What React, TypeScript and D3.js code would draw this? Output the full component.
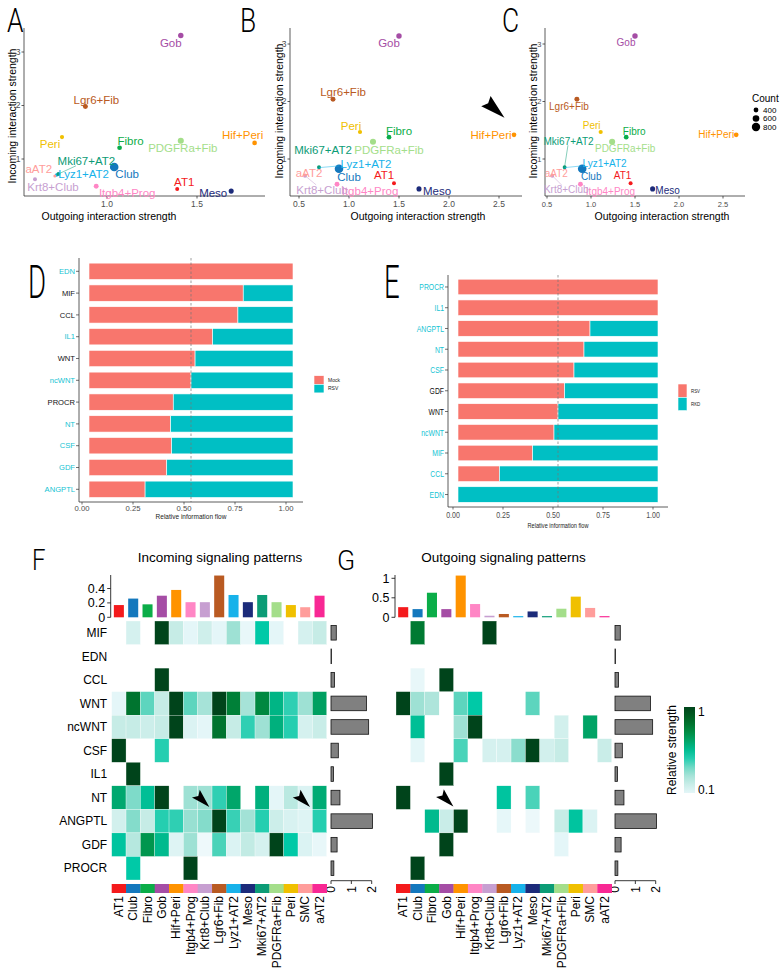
import React from "react";
import * as d3 from "d3";

const SANS = "'Liberation Sans', Arial, sans-serif";
const LETTER = "Roboto, 'Liberation Sans', sans-serif";
const SALMON = "#F8766D";
const TEAL = "#00BFC4";
const CYAN_LABEL = "#14C3D3";

// cell groups (heatmap columns) and their colours
const cellTypes = [
  "AT1", "Club", "Fibro", "Gob", "Hif+Peri", "Itgb4+Prog", "Krt8+Club", "Lgr6+Fib",
  "Lyz1+AT2", "Meso", "Mki67+AT2", "PDGFRa+Fib", "Peri", "SMC", "aAT2",
];
const cellColors = [
  "#F41A1C", "#1478BD", "#0BAD48", "#A54DA5", "#FF9300", "#FF86C5", "#C79FD1", "#B95A22",
  "#17B2EA", "#1C2B7A", "#0C9C76", "#A4DE8A", "#F0C000", "#FF9D9B", "#F82894",
];

// the scatter panels have no SMC group, so aAT2 takes the 14th palette colour
const scatterTypes = cellTypes.filter((c) => c !== "SMC");
const scatterColors = [...cellColors.slice(0, 13), "#FF9D9B"];
const cellCounts = [310, 820, 390, 470, 390, 410, 310, 420, 240, 430, 290, 540, 330, 200];
const countBreaks = [400, 600, 800];

// A: Mock + RSV
const mockOutgoing = [1.39, 1.04, 1.07, 1.41, 1.82, 0.94, 0.6, 0.88, 0.72, 1.69, 0.73, 1.41, 0.75, 0.71];
const mockIncoming = [0.44, 0.85, 1.21, 3.31, 1.3, 0.49, 0.62, 1.98, 0.7, 0.4, 0.72, 1.34, 1.41, 0.68];
// B, C: RSV + RKD
const rkdOutgoing = [1.45, 0.9, 1.4, 1.5, 2.65, 0.88, 0.56, 0.84, 0.7, 1.7, 0.7, 1.24, 1.11, 0.56];
const rkdIncoming = [0.58, 0.83, 1.38, 3.14, 1.42, 0.56, 0.71, 2.04, 0.85, 0.48, 0.86, 1.3, 1.47, 0.72];

// D: relative information flow, Mock vs RSV
const flowPathwaysD = ["EDN", "MIF", "CCL", "IL1", "WNT", "ncWNT", "PROCR", "NT", "CSF", "GDF", "ANGPTL"];
const mockShare = [1.0, 0.756, 0.73, 0.606, 0.52, 0.5, 0.413, 0.4, 0.405, 0.381, 0.275];
const enrichedD = ["EDN", "IL1", "ncWNT", "NT", "CSF", "GDF", "ANGPTL"];

// E: relative information flow, RSV vs RKD
const flowPathwaysE = ["PROCR", "IL1", "ANGPTL", "NT", "CSF", "GDF", "WNT", "ncWNT", "MIF", "CCL", "EDN"];
const rsvShare = [1, 1, 0.66, 0.63, 0.58, 0.533, 0.5, 0.48, 0.373, 0.207, 0];
const enrichedE = ["PROCR", "IL1", "ANGPTL", "NT", "CSF", "ncWNT", "MIF", "CCL", "EDN"];
const flowTicks = [0, 0.25, 0.5, 0.75, 1];

// F, G: signalling role heatmaps (relative strength, 0 = none)
const pathways = ["MIF", "EDN", "CCL", "WNT", "ncWNT", "CSF", "IL1", "NT", "ANGPTL", "GDF", "PROCR"];
const incomingRel = [
  [0, 0.15, 0, 1, 0.2, 0.1, 0.17, 0.1, 0.3, 0.08, 0.5, 0.1, 0, 0.15, 0.2],
  [0, 0, 0, 0, 0, 0, 0, 0, 0, 0, 0, 0, 0, 0, 0],
  [0, 0, 0, 1, 0, 0, 0, 0, 0, 0, 0, 0, 0, 0, 0],
  [0.1, 0.82, 0.4, 0.2, 1, 0.4, 0.28, 1, 0.78, 0.28, 0.75, 0.58, 0.45, 0.3, 0.66],
  [0.2, 0.2, 0.18, 0.2, 1, 0.13, 0.1, 0.82, 0.2, 0.45, 0.3, 0.6, 0.46, 0.15, 0.19],
  [1, 0, 0, 0.46, 0, 0, 0, 0, 0, 0, 0, 0, 0, 0, 0],
  [0, 1, 0, 0, 0, 0, 0, 0, 0, 0, 0, 0, 0, 0, 0],
  [0.63, 0.35, 0.54, 1, 0, 0.3, 0.3, 0.45, 0.64, 0, 0.6, 0.1, 0.23, 0.13, 0.62],
  [0.16, 0.34, 0.2, 0.46, 0.45, 0.31, 0.34, 1, 0.44, 0.29, 0.46, 0.18, 0.14, 0.12, 0.46],
  [0.52, 0.24, 0.7, 0.56, 0.12, 0.3, 0.05, 0.42, 0.13, 0.21, 0.15, 1, 0.5, 0.13, 0.08],
  [0, 0.5, 0, 0, 0, 1, 0, 0, 0, 0, 0, 0, 0, 0, 0],
];
const outgoingRel = [
  [0, 0.8, 0, 0, 0, 0, 1, 0, 0, 0, 0, 0, 0, 0, 0],
  [0, 0, 0, 0, 0, 0, 0, 0, 0, 0, 0, 0, 0, 0, 0],
  [0, 0.08, 0, 1, 0, 0, 0, 0, 0, 0, 0, 0, 0, 0, 0],
  [1, 0.3, 0.26, 0, 0.4, 0.5, 0, 0, 0, 0.4, 0, 0, 0, 0, 0],
  [0, 0.54, 0, 0, 0.3, 1, 0, 0, 0, 0, 0, 0.16, 0, 0.65, 0],
  [0, 0.1, 0, 0, 0.42, 0, 0.15, 0.15, 0.33, 1, 0.16, 0.2, 0, 0, 0.19],
  [0, 0, 0, 1, 0, 0, 0, 0, 0, 0, 0, 0, 0, 0, 0],
  [1, 0, 0, 0, 0, 0, 0, 0.52, 0, 0.42, 0, 0, 0, 0, 0],
  [0, 0, 0.56, 0.19, 1, 0, 0, 0.09, 0, 0.06, 0, 0.2, 0.52, 0.13, 0],
  [0, 0, 0, 1, 0, 0, 0, 0, 0, 0, 0, 0.1, 0, 0, 0],
  [0, 1, 0, 0, 0, 0, 0, 0, 0, 0, 0, 0, 0, 0, 0],
];
const incomingTotals = [0.17, 0.26, 0.18, 0.3, 0.38, 0.21, 0.21, 0.58, 0.31, 0.21, 0.31, 0.21, 0.17, 0.14, 0.3];
const outgoingTotals = [0.26, 0.21, 0.63, 0.21, 1.07, 0.34, 0.04, 0.085, 0.03, 0.15, 0.03, 0.22, 0.53, 0.24, 0.03];
const pathwayTotals = [0.26, 0.02, 0.17, 1.74, 1.85, 0.36, 0.12, 0.44, 2.04, 0.3, 0.14];

// label placement for the scatter panels (pixel nudges from each point)
type Nudge = [number, number];
const nudgesA: Nudge[] = [[7, -7], [13, 7], [11, -7], [-10, 8], [-12, -8], [31, 7], [18, 8], [11, -7], [27, -1], [-18, 2], [28, -13], [2, 7], [-12, 7], [-16, -7]];
const nudgesB: Nudge[] = [[-10, -8], [10, 8], [10, -6], [-10, 7], [-23, 0], [33, 7], [17, 14], [10, -7], [47, -4], [18, 2], [4, -17], [16, 8], [-9, -6], [4, -2]];
const nudgesC: Nudge[] = [[-8, -8], [9, 8], [8, -6], [-9, 7], [-20, 0], [30, 7], [14, 14], [-8, 7], [40, -4], [15, 2], [4, -26], [13, 7], [-9, -6], [4, -2]];

const countRadius = d3.scaleLinear().domain([200, 800]).range([1.5, 4.2]);

const heatColor = d3
  .scaleLinear<string>()
  .domain([0, 0.1, 0.2, 0.3, 0.4, 0.5, 0.6, 0.7, 0.8, 0.9, 1])
  .range(["#F7FCFD", "#E4F6F8", "#C6ECE6", "#9EE1D4", "#5DD5BE", "#00C9A7", "#00B07D", "#00964E", "#007A32", "#005E22", "#00441B"])
  .interpolate(d3.interpolateRgb);

type Lin = d3.ScaleLinear<number, number>;

function arrowHead(tx: number, ty: number, deg: number, len: number, hw: number, notch: number) {
  const a = (deg * Math.PI) / 180;
  const ux = Math.cos(a);
  const uy = Math.sin(a);
  const bx = tx - ux * len;
  const by = ty - uy * len;
  const nx = bx + ux * notch;
  const ny = by + uy * notch;
  return `M${tx},${ty}L${bx - uy * hw},${by + ux * hw}L${nx},${ny}L${bx + uy * hw},${by - ux * hw}Z`;
}

const Letter = ({ x, y, size, sx, children }: { x: number; y: number; size: number; sx: number; children: string }) => (
  <text transform={`translate(${x},${y}) scale(${sx},1)`} fontSize={size} fontFamily={LETTER} fontWeight={300} fill="#000">
    {children}
  </text>
);

function Scatter(p: {
  left: number; right: number; top: number; bottom: number;
  x: Lin; y: Lin; xTicks: number[]; yTicks: number[];
  outgoing: number[]; incoming: number[]; nudges: Nudge[]; segs: string[];
  labelSize: number; tickSize: number; titleSize: number;
  xTitleX: number; yTitleX: number; yTitleY: number;
}) {
  const fmt = d3.format(".1f");
  const pts = scatterTypes.map((name, i) => {
    const px = p.x(p.outgoing[i]);
    const py = p.y(p.incoming[i]);
    return {
      name, color: scatterColors[i], r: countRadius(cellCounts[i]), px, py,
      lx: px + p.nudges[i][0], ly: py + p.nudges[i][1],
    };
  });
  const segments = pts
    .filter((d) => p.segs.includes(d.name))
    .map((d) => {
      const hw = d.name.length * p.labelSize * 0.29;
      const hh = p.labelSize * 0.42;
      const dx = d.px - d.lx;
      const dy = d.py - d.ly;
      const t = Math.min(dx ? hw / Math.abs(dx) : Infinity, dy ? hh / Math.abs(dy) : Infinity);
      return { ...d, ex: d.lx + dx * t, ey: d.ly + dy * t };
    });
  return (
    <g>
      <line x1={p.left} x2={p.left} y1={p.top} y2={p.bottom} stroke="#333" strokeWidth={0.8} />
      <line x1={p.left} x2={p.right} y1={p.bottom} y2={p.bottom} stroke="#333" strokeWidth={0.8} />
      {p.yTicks.map((t) => (
        <g key={`y${t}`}>
          <line x1={p.left - 2.5} x2={p.left} y1={p.y(t)} y2={p.y(t)} stroke="#333" strokeWidth={0.8} />
          <text x={p.left - 3.5} y={p.y(t)} dy="0.35em" textAnchor="end" fontSize={p.tickSize} fill="#4D4D4D">{t}</text>
        </g>
      ))}
      {p.xTicks.map((t) => (
        <g key={`x${t}`}>
          <line x1={p.x(t)} x2={p.x(t)} y1={p.bottom} y2={p.bottom + 2.5} stroke="#333" strokeWidth={0.8} />
          <text x={p.x(t)} y={p.bottom + 8} dy="0.35em" textAnchor="middle" fontSize={p.tickSize} fill="#4D4D4D">{fmt(t)}</text>
        </g>
      ))}
      <text transform={`translate(${p.yTitleX},${p.yTitleY}) rotate(-90)`} dy="0.35em" textAnchor="middle" fontSize={p.titleSize}>
        Incoming interaction strength
      </text>
      <text x={p.xTitleX} y={p.bottom + 20} dy="0.35em" textAnchor="middle" fontSize={p.titleSize}>
        Outgoing interaction strength
      </text>
      {pts.map((d) => (
        <circle key={d.name} cx={d.px} cy={d.py} r={d.r} fill={d.color} />
      ))}
      {segments.map((d) => (
        <line key={`s${d.name}`} x1={d.px} y1={d.py} x2={d.ex} y2={d.ey} stroke={d.color} strokeWidth={0.5} />
      ))}
      {pts.map((d) => (
        <text key={`l${d.name}`} x={d.lx} y={d.ly} dy="0.35em" textAnchor="middle" fontSize={p.labelSize} fill={d.color}>
          {d.name}
        </text>
      ))}
    </g>
  );
}

function FlowBars(p: {
  cats: string[]; share: number[]; enriched: string[]; legend: string[];
  x0: number; x1: number; top: number; bottom: number;
  axisX: number; axisTop: number; axisY: number; axisRight: number;
  labelSize: number; labelSx: number; tickSize: number; tickSx: number; tickShift: number; tickGap: number;
  titleY: number; titleSize: number; titleSx: number;
  legX: number; legY: number; legW: number; legH: number; legSize: number; legSx: number;
}) {
  const x = d3.scaleLinear().domain([0, 1]).range([p.x0, p.x1]);
  const y = d3.scaleBand<string>().domain(p.cats).range([p.top, p.bottom]).paddingInner(0.25).paddingOuter(0.125);
  const fmt = d3.format(".2f");
  return (
    <g>
      {p.cats.map((c, i) => (
        <g key={c}>
          <rect x={x(0)} y={y(c)} width={x(p.share[i]) - x(0)} height={y.bandwidth()} fill={SALMON} stroke="#fff" strokeWidth={0.6} />
          <rect x={x(p.share[i])} y={y(c)} width={x(1) - x(p.share[i])} height={y.bandwidth()} fill={TEAL} stroke="#fff" strokeWidth={0.6} />
        </g>
      ))}
      <line x1={x(0.5)} x2={x(0.5)} y1={p.axisTop} y2={p.axisY} stroke="#777" strokeWidth={0.7} strokeDasharray="2.5,2" />
      <line x1={p.axisX} x2={p.axisX} y1={p.axisTop} y2={p.axisY} stroke="#333" strokeWidth={0.8} />
      <line x1={p.axisX} x2={p.axisRight} y1={p.axisY} y2={p.axisY} stroke="#333" strokeWidth={0.8} />
      {p.cats.map((c) => {
        const cy = (y(c) as number) + y.bandwidth() / 2;
        return (
          <g key={`t${c}`}>
            <line x1={p.axisX - 3} x2={p.axisX} y1={cy} y2={cy} stroke="#333" strokeWidth={0.7} />
            <text
              transform={`translate(${p.axisX - 4},${cy}) scale(${p.labelSx},1)`}
              dy="0.35em"
              textAnchor="end"
              fontSize={p.labelSize}
              fill={p.enriched.includes(c) ? CYAN_LABEL : "#111"}
            >
              {c}
            </text>
          </g>
        );
      })}
      {flowTicks.map((t) => (
        <g key={`x${t}`}>
          <line x1={x(t) + p.tickShift} x2={x(t) + p.tickShift} y1={p.axisY} y2={p.axisY + 2.5} stroke="#333" strokeWidth={0.7} />
          <text
            transform={`translate(${x(t) + p.tickShift},${p.axisY + p.tickGap}) scale(${p.tickSx},1)`}
            dy="0.35em"
            textAnchor="middle"
            fontSize={p.tickSize}
            fill="#4D4D4D"
          >
            {fmt(t)}
          </text>
        </g>
      ))}
      <text transform={`translate(${x(0.5)},${p.titleY}) scale(${p.titleSx},1)`} dy="0.35em" textAnchor="middle" fontSize={p.titleSize} fill="#222">
        Relative information flow
      </text>
      {p.legend.map((name, i) => (
        <g key={name}>
          <rect x={p.legX} y={p.legY + i * p.legH} width={p.legW} height={p.legH} fill={i === 0 ? SALMON : TEAL} stroke="#fff" strokeWidth={0.6} />
          <text
            transform={`translate(${p.legX + p.legW + 4},${p.legY + (i + 0.5) * p.legH}) scale(${p.legSx},1)`}
            dy="0.35em"
            fontSize={p.legSize}
            fill="#222"
          >
            {name}
          </text>
        </g>
      ))}
    </g>
  );
}

const rowBand = d3.scaleBand<string>().domain(pathways).range([621, 880]);
const COL_LABEL_TOP = 896;
const STRIP_Y = 884;

function Heatmap(p: {
  left: number; right: number; values: number[][]; colTotals: number[];
  topMax: number; topPx: number; topTicks: number[]; barsLeft: number;
  rowLabels: boolean; title: string; titleX: number;
  arrows: [string, string, number, number][];
}) {
  const col = d3.scaleBand<string>().domain(cellTypes).range([p.left, p.right]);
  const colBar = d3.scaleBand<string>().domain(cellTypes).range([p.left, p.right]).paddingInner(0.3).paddingOuter(0.15);
  const yTop = d3.scaleLinear().domain([0, p.topMax]).range([617.3, 617.3 - p.topPx]);
  const xRow = d3.scaleLinear().domain([0, 2]).range([p.barsLeft, p.barsLeft + 40.7]);
  const tickFmt = d3.format("~g");
  const bw = col.bandwidth();
  const bh = rowBand.bandwidth();
  const rowBarH = bh * 0.62;
  const axisX = p.left - 1;
  return (
    <g>
      <text x={p.titleX} y={557} dy="0.35em" textAnchor="middle" fontSize={13.5}>{p.title}</text>
      {/* column sums on top */}
      <line x1={axisX} x2={axisX} y1={yTop(0)} y2={575} stroke="#222" strokeWidth={0.9} />
      {p.topTicks.map((t) => (
        <g key={`tt${t}`}>
          <line x1={axisX - 3.5} x2={axisX} y1={yTop(t)} y2={yTop(t)} stroke="#222" strokeWidth={0.9} />
          <text x={axisX - 5.5} y={yTop(t)} dy="0.35em" textAnchor="end" fontSize={12.5}>{tickFmt(t)}</text>
        </g>
      ))}
      {cellTypes.map((c, i) => (
        <rect key={`tb${c}`} x={colBar(c)} y={yTop(p.colTotals[i])} width={colBar.bandwidth()} height={yTop(0) - yTop(p.colTotals[i])} fill={cellColors[i]} />
      ))}
      {/* heatmap cells */}
      {pathways.map((pw, r) =>
        cellTypes.map((c, i) =>
          p.values[r][i] > 0 ? (
            <rect key={`${pw}-${c}`} x={col(c)} y={rowBand(pw)} width={bw} height={bh} fill={heatColor(p.values[r][i])} stroke="#fff" strokeWidth={0.3} />
          ) : null
        )
      )}
      {p.rowLabels &&
        pathways.map((pw) => (
          <text key={`rl${pw}`} x={p.left - 4.5} y={(rowBand(pw) as number) + bh / 2} dy="0.35em" textAnchor="end" fontSize={12}>
            {pw}
          </text>
        ))}
      {/* row sums on the right */}
      {pathways.map((pw, r) => (
        <rect
          key={`rb${pw}`}
          x={xRow(0)}
          y={(rowBand(pw) as number) + (bh - rowBarH) / 2}
          width={Math.max(xRow(pathwayTotals[r]) - xRow(0), 0.3)}
          height={rowBarH}
          fill="#808080"
          stroke="#111"
          strokeWidth={0.8}
        />
      ))}
      <line x1={xRow(0)} x2={xRow(2)} y1={880.7} y2={880.7} stroke="#222" strokeWidth={0.9} />
      {[0, 1, 2].map((t) => (
        <g key={`rt${t}`}>
          <line x1={xRow(t)} x2={xRow(t)} y1={880.7} y2={884} stroke="#222" strokeWidth={0.9} />
          <text transform={`translate(${xRow(t)},${886}) rotate(-90)`} dy="0.35em" textAnchor="end" fontSize={12}>{t}</text>
        </g>
      ))}
      {/* cell colour strip and labels */}
      {cellTypes.map((c, i) => (
        <g key={`cs${c}`}>
          <rect x={col(c)} y={STRIP_Y} width={bw + 0.3} height={9} fill={cellColors[i]} />
          <text transform={`translate(${(col(c) as number) + bw / 2},${COL_LABEL_TOP}) rotate(-90)`} dy="0.35em" textAnchor="end" fontSize={12}>
            {c}
          </text>
        </g>
      ))}
      {p.arrows.map(([pw, c, fx, fy]) => (
        <path
          key={`ar${pw}${c}`}
          d={arrowHead((col(c) as number) + fx * bw, (rowBand(pw) as number) + fy * bh, 45, 19, 5.5, 3.5)}
          fill="#000"
        />
      ))}
    </g>
  );
}

export default function App() {
  const xA = d3.scaleLinear().domain([1, 1.5]).range([107, 197]);
  const yA = d3.scaleLinear().domain([1, 3]).range([159, 52]);
  const xB = d3.scaleLinear().domain([0.5, 2.5]).range([299, 499]);
  const yB = d3.scaleLinear().domain([1, 3]).range([159, 44]);
  const xC = d3.scaleLinear().domain([0.5, 2.5]).range([547, 723]);
  const yC = d3.scaleLinear().domain([1, 3]).range([159, 44]);
  const hifIdx = scatterTypes.indexOf("Hif+Peri");
  const hifX = xB(rkdOutgoing[hifIdx]);
  const hifY = yB(rkdIncoming[hifIdx]);

  const legendStops = d3.range(0, 1.0001, 0.1).map((t) => 0.1 + t * 0.9);

  return (
    <svg
      width={780}
      height={976}
      viewBox="0 0 780 976"
      style={{ position: "absolute", left: 0, top: 0, display: "block" }}
      fontFamily={SANS}
    >
      <rect width={780} height={976} fill="#fff" />
      <defs>
        <linearGradient id="relStrength" x1="0" y1="1" x2="0" y2="0">
          {legendStops.map((v, i) => (
            <stop key={i} offset={`${(i / (legendStops.length - 1)) * 100}%`} stopColor={heatColor(v)} />
          ))}
        </linearGradient>
      </defs>

      <Letter x={7} y={32} size={33} sx={0.8}>A</Letter>
      <Letter x={240} y={32} size={33} sx={0.8}>B</Letter>
      <Letter x={502} y={32} size={33} sx={0.8}>C</Letter>

      <Scatter
        left={24} right={265} top={28} bottom={196} x={xA} y={yA}
        xTicks={[1, 1.5]} yTicks={[1, 2, 3]}
        outgoing={mockOutgoing} incoming={mockIncoming} nudges={nudgesA} segs={["Mki67+AT2"]}
        labelSize={11.5} tickSize={8.5} titleSize={10.5}
        xTitleX={109} yTitleX={12} yTitleY={116}
      />
      <Scatter
        left={290} right={522} top={28} bottom={196} x={xB} y={yB}
        xTicks={[0.5, 1, 1.5, 2, 2.5]} yTicks={[1, 2, 3]}
        outgoing={rkdOutgoing} incoming={rkdIncoming} nudges={nudgesB} segs={["Lyz1+AT2", "Krt8+Club"]}
        labelSize={11.5} tickSize={8.5} titleSize={10.5}
        xTitleX={418} yTitleX={279} yTitleY={111}
      />
      <path d={arrowHead(hifX - 9.5, hifY - 17, 42, 25, 7, 3)} fill="#000" />
      <Scatter
        left={545} right={745} top={28} bottom={196} x={xC} y={yC}
        xTicks={[0.5, 1, 1.5, 2, 2.5]} yTicks={[1, 2, 3]}
        outgoing={rkdOutgoing} incoming={rkdIncoming} nudges={nudgesC} segs={["Mki67+AT2", "Lyz1+AT2", "Krt8+Club"]}
        labelSize={10} tickSize={7.5} titleSize={10.5}
        xTitleX={662} yTitleX={533} yTitleY={111}
      />
      {/* point size legend */}
      <text x={752} y={98} dy="0.35em" fontSize={10}>Count</text>
      {countBreaks.map((c, i) => (
        <g key={c}>
          <circle cx={756} cy={110 + i * 8.5} r={countRadius(c)} fill="#000" />
          <text x={763} y={110 + i * 8.5} dy="0.35em" fontSize={8}>{c}</text>
        </g>
      ))}

      <Letter x={28} y={298} size={46} sx={0.6}>D</Letter>
      <Letter x={384} y={298} size={46} sx={0.6}>E</Letter>

      <FlowBars
        cats={flowPathwaysD} share={mockShare} enriched={enrichedD} legend={["Mock", "RSV"]}
        x0={89} x1={293} top={260.4} bottom={500.2}
        axisX={79} axisTop={258} axisY={502} axisRight={303}
        labelSize={7.6} labelSx={1} tickSize={7.7} tickSx={1} tickShift={-7} tickGap={6.5}
        titleY={517} titleSize={6.5} titleSx={1}
        legX={314} legY={375.7} legW={10} legH={8.6} legSize={5} legSx={1}
      />
      <FlowBars
        cats={flowPathwaysE} share={rsvShare} enriched={enrichedE} legend={["RSV", "RKD"]}
        x0={458} x1={658} top={276.6} bottom={504.9}
        axisX={448} axisTop={275} axisY={507} axisRight={668}
        labelSize={9.5} labelSx={0.72} tickSize={9} tickSx={0.78} tickShift={-5} tickGap={7.5}
        titleY={526} titleSize={7} titleSx={0.8}
        legX={678} legY={384} legW={9} legH={13.3} legSize={5.5} legSx={0.8}
      />

      <Letter x={32} y={570} size={30} sx={0.8}>F</Letter>
      <Letter x={337} y={570} size={28} sx={0.95}>G</Letter>

      <Heatmap
        left={111.7} right={326.7} values={incomingRel} colTotals={incomingTotals}
        topMax={0.4} topPx={28.8} topTicks={[0, 0.2, 0.4]} barsLeft={331}
        rowLabels title="Incoming signaling patterns" titleX={220}
        arrows={[["NT", "Krt8+Club", 0.81, 0.9], ["NT", "SMC", 0.84, 0.9]]}
      />
      <Heatmap
        left={396} right={611.7} values={outgoingRel} colTotals={outgoingTotals}
        topMax={1} topPx={39} topTicks={[0, 0.5, 1]} barsLeft={615}
        rowLabels={false} title="Outgoing signaling patterns" titleX={503.5}
        arrows={[["NT", "Gob", 0.99, 0.88]]}
      />

      {/* relative strength colour key */}
      <rect x={684} y={707} width={11} height={86} fill="url(#relStrength)" />
      <text x={698} y={712} dy="0.35em" fontSize={12}>1</text>
      <text x={698} y={790} dy="0.35em" fontSize={12}>0.1</text>
      <text transform="translate(672,750) rotate(-90)" dy="0.35em" textAnchor="middle" fontSize={12}>
        Relative strength
      </text>
    </svg>
  );
}
